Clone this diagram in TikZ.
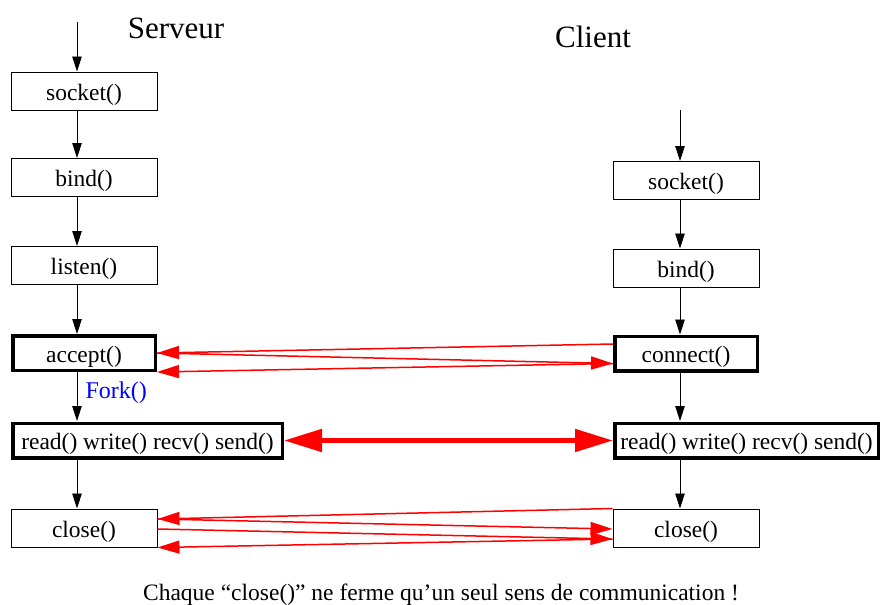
\documentclass[tikz,border=0pt]{standalone}
\usepackage{fontspec}
\setmainfont{Liberation Serif}
\usetikzlibrary{arrows.meta}
\begin{document}
\begin{tikzpicture}[x=1pt,y=-1pt,
  box/.style={draw,line width=1pt,minimum width=146pt,minimum height=38pt,inner sep=0pt,text height=18.5pt,text depth=0pt,font=\fontsize{23.5}{26}\selectfont},
  tbox/.style={box,line width=3.5pt,minimum width=142.5pt,minimum height=34.5pt},
  flow/.style={line width=0.8pt,-{Triangle[length=15pt,width=9.5pt]}},
  red1/.style={draw=red,line width=1.5pt,-{Triangle[length=22pt,width=13pt]}},
  red2/.style={draw=red,line width=5pt,{Triangle[length=38pt,width=22pt]}-{Triangle[length=38pt,width=22pt]}}
]
\useasboundingbox (0,0) rectangle (881,605);
% titles
\node[font=\fontsize{31}{34}\selectfont] (tS) at (176,28) {Serveur};
\node[font=\fontsize{31}{34}\selectfont] (tC) at (593,37) {Client};
% server
\coordinate (sTop) at (77,22);
\node[box] (s1) at (84,91) {socket()};
\node[box] (s2) at (84,177.5) {bind()};
\node[box] (s3) at (84,265.5) {listen()};
\node[tbox] (s4) at (84,353) {accept()};
\node[tbox,minimum width=269.5pt] (s5) at (147.5,440.5) {read() write() recv() send()};
\node[box] (s6) at (84,528) {close()};
% client
\coordinate (cTop) at (680,110);
\node[box] (c1) at (686,180.5) {socket()};
\node[box] (c2) at (686,268) {bind()};
\node[tbox] (c3) at (686,353.5) {connect()};
\node[tbox,minimum width=263.5pt] (c4) at (746.5,440.5) {read() write() recv() send()};
\node[box] (c5) at (686,528) {close()};
% server flow
\draw[flow] (sTop) -- (sTop |- s1.north);
\draw[flow] ([xshift=-7pt]s1.south) -- ([xshift=-7pt]s2.north);
\draw[flow] ([xshift=-7pt]s2.south) -- ([xshift=-7pt]s3.north);
\draw[flow] ([xshift=-7pt]s3.south) -- ([xshift=-7pt]s4.north);
\draw[flow] ([xshift=-7pt]s4.south) -- (77,421);
\node[text=blue,font=\fontsize{24}{26}\selectfont,anchor=west] (fork) at (82,393) {Fork()};
\draw[flow] (77,460) -- ([xshift=-7pt]s6.north);
% client flow
\draw[flow] (cTop) -- (cTop |- c1.north);
\draw[flow] ([xshift=-6pt]c1.south) -- ([xshift=-6pt]c2.north);
\draw[flow] ([xshift=-6pt]c2.south) -- ([xshift=-6pt]c3.north);
\draw[flow] ([xshift=-6pt]c3.south) -- (680,421);
\draw[flow] (680,460) -- ([xshift=-6pt]c5.north);
% accept / connect
\draw[red1] ([yshift=9.5pt]c3.west) -- (s4.east);
\draw[red1] (s4.east) -- ([yshift=-10pt]c3.west);
\draw[red1] ([yshift=-10pt]c3.west) -- ([yshift=-19pt]s4.east);
% data
\draw[red2] (s5.east) -- (c4.west);
% close
\draw[red1] (c5.north west) -- ([yshift=9pt]s6.east);
\draw[red1] ([yshift=9pt]s6.east) -- ([yshift=-1pt]c5.west);
\draw[red1] ([yshift=-1pt]s6.east) -- ([yshift=-11pt]c5.west);
\draw[red1] ([yshift=-11pt]c5.west) -- (s6.south east);
% note
\node[font=\fontsize{23.5}{26}\selectfont] (note) at (441,595) {Chaque “close()” ne ferme qu’un seul sens de communication !};
\end{tikzpicture}
\end{document}
